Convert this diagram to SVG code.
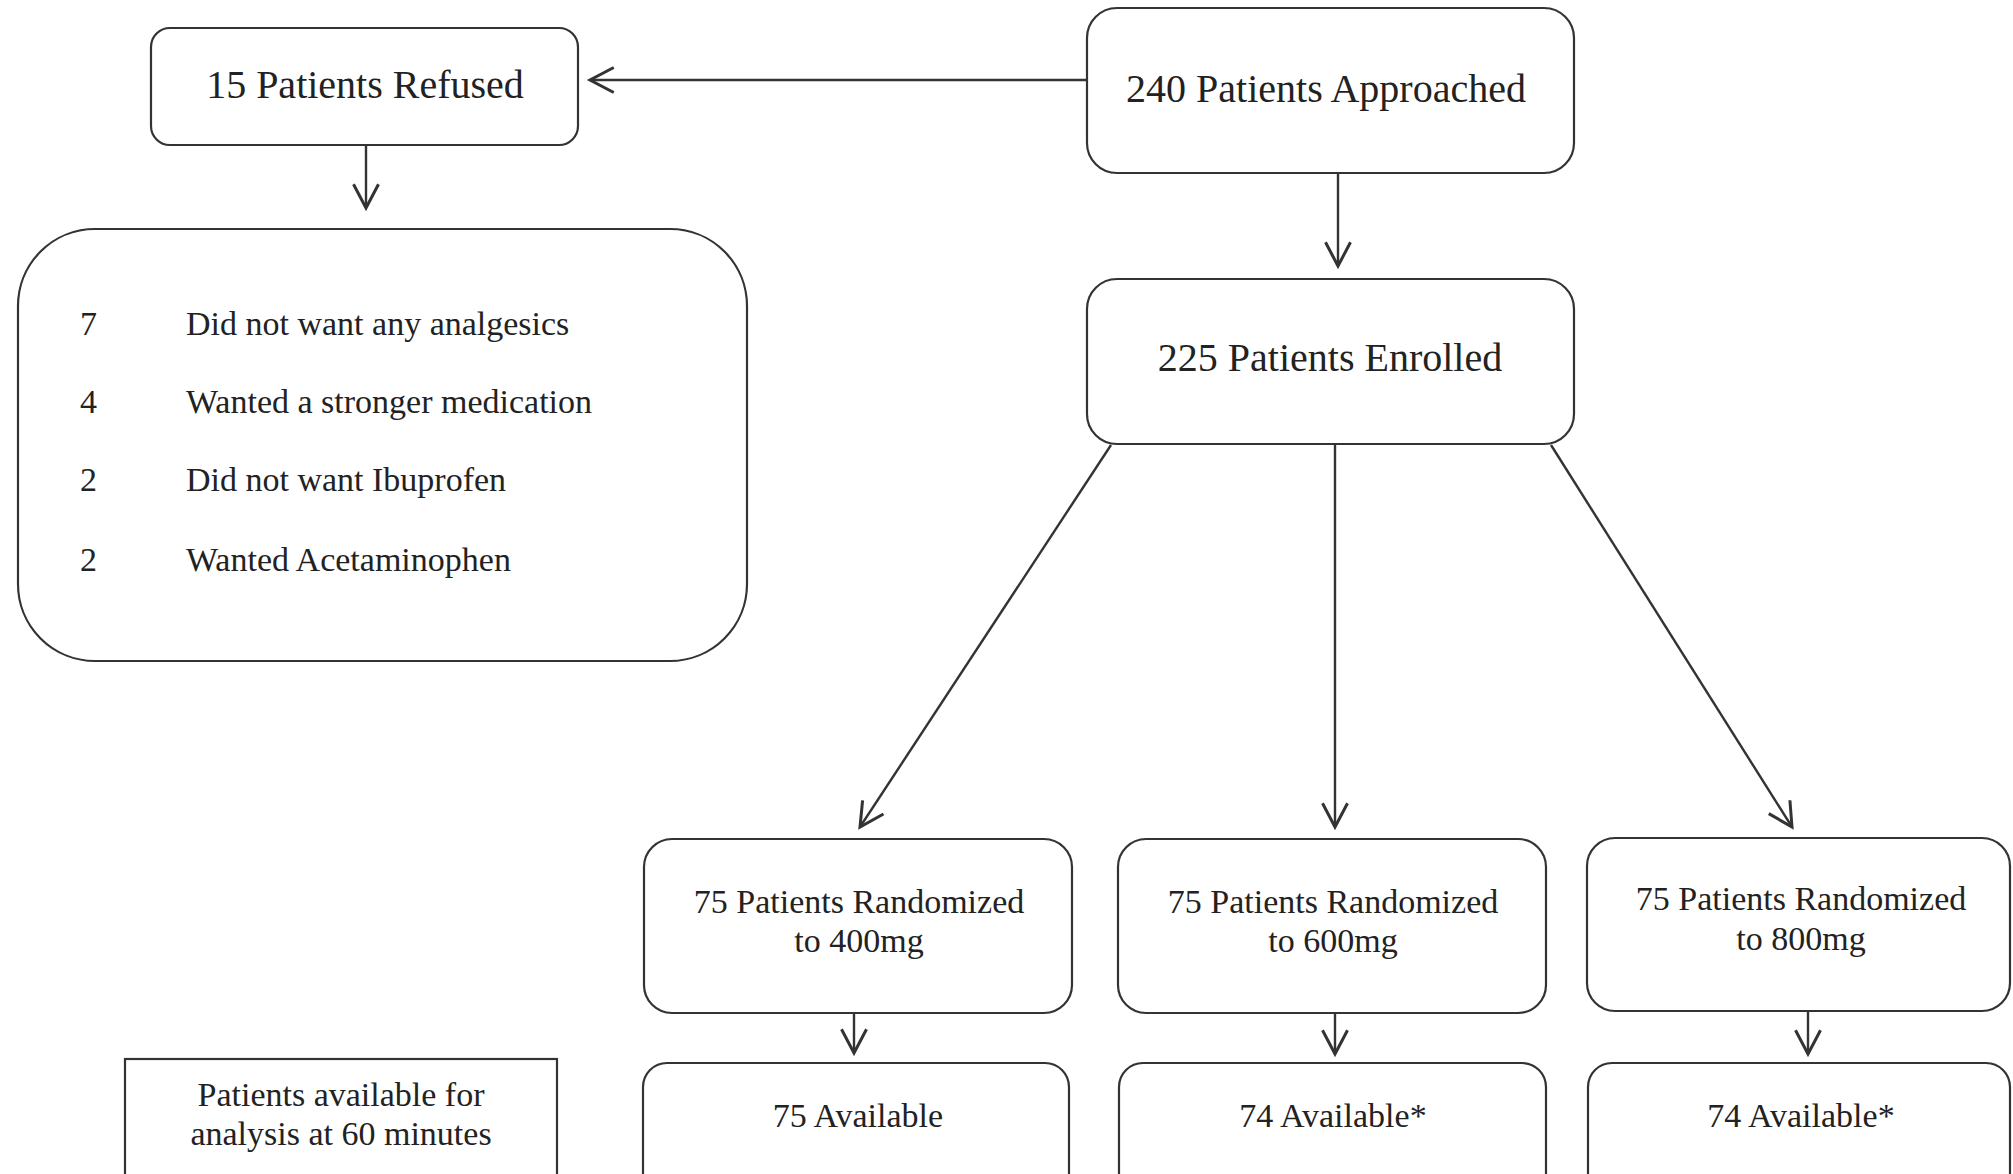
<svg xmlns="http://www.w3.org/2000/svg" width="2013" height="1174" viewBox="0 0 2013 1174">
<style>
.box{fill:#fff;stroke:#333;stroke-width:2.2}
.t{font-family:"Liberation Serif","Times New Roman",serif;fill:#222}
.big{font-size:40px;text-anchor:middle}
.med{font-size:34px;text-anchor:middle}
.item{font-size:34px}
.conn{stroke:#333;stroke-width:2.4;fill:none;marker-end:url(#arr)}
</style>
<defs>
<marker id="arr" markerUnits="userSpaceOnUse" markerWidth="30" markerHeight="30" viewBox="-20 -12 22 24" refX="0" refY="0" orient="auto">
<path d="M-19,-10 L0,0 L-19,10" fill="none" stroke="#333" stroke-width="2.4"/>
</marker>
</defs>
<rect width="2013" height="1174" fill="#fff"/>
<g id="connectors">
<line class="conn" x1="1087" y1="80" x2="590" y2="80"/>
<line class="conn" x1="366" y1="146" x2="366" y2="208"/>
<line class="conn" x1="1338" y1="173" x2="1338" y2="266"/>
<line class="conn" x1="1111" y1="445" x2="860" y2="827"/>
<line class="conn" x1="1335" y1="445" x2="1335" y2="827"/>
<line class="conn" x1="1551" y1="445" x2="1792" y2="827"/>
<line class="conn" x1="854" y1="1013" x2="854" y2="1053"/>
<line class="conn" x1="1335" y1="1013" x2="1335" y2="1054"/>
<line class="conn" x1="1808" y1="1012" x2="1808" y2="1054"/>
</g>
<g id="refused">
<rect class="box" x="151" y="28" width="427" height="117" rx="19"/>
<text class="t big" x="365" y="98">15 Patients Refused</text>
</g>
<g id="reasons">
<rect class="box" x="18" y="229" width="729" height="432" rx="77"/>
<text class="t item" x="80" y="335">7</text>
<text class="t item" x="186" y="335">Did not want any analgesics</text>
<text class="t item" x="80" y="413">4</text>
<text class="t item" x="186" y="413">Wanted a stronger medication</text>
<text class="t item" x="80" y="491">2</text>
<text class="t item" x="186" y="491">Did not want Ibuprofen</text>
<text class="t item" x="80" y="571">2</text>
<text class="t item" x="186" y="571">Wanted Acetaminophen</text>
</g>
<g id="approached">
<rect class="box" x="1087" y="8" width="487" height="165" rx="30"/>
<text class="t big" x="1326" y="102">240 Patients Approached</text>
</g>
<g id="enrolled">
<rect class="box" x="1087" y="279" width="487" height="165" rx="30"/>
<text class="t big" x="1330" y="371">225 Patients Enrolled</text>
</g>
<g id="rand400">
<rect class="box" x="644" y="839" width="428" height="174" rx="28"/>
<text class="t med" x="859" y="913">75 Patients Randomized</text>
<text class="t med" x="859" y="952">to 400mg</text>
</g>
<g id="rand600">
<rect class="box" x="1118" y="839" width="428" height="174" rx="28"/>
<text class="t med" x="1333" y="913">75 Patients Randomized</text>
<text class="t med" x="1333" y="952">to 600mg</text>
</g>
<g id="rand800">
<rect class="box" x="1587" y="838" width="423" height="173" rx="28"/>
<text class="t med" x="1801" y="910">75 Patients Randomized</text>
<text class="t med" x="1801" y="950">to 800mg</text>
</g>
<g id="legend">
<rect class="box" x="125" y="1059" width="432" height="140"/>
<text class="t med" x="341" y="1106">Patients available for</text>
<text class="t med" x="341" y="1145">analysis at 60 minutes</text>
</g>
<g id="avail400">
<rect class="box" x="643" y="1063" width="426" height="140" rx="24"/>
<text class="t med" x="858" y="1127">75 Available</text>
</g>
<g id="avail600">
<rect class="box" x="1119" y="1063" width="427" height="140" rx="24"/>
<text class="t med" x="1333" y="1127">74 Available*</text>
</g>
<g id="avail800">
<rect class="box" x="1588" y="1063" width="422" height="140" rx="24"/>
<text class="t med" x="1801" y="1127">74 Available*</text>
</g>
</svg>
